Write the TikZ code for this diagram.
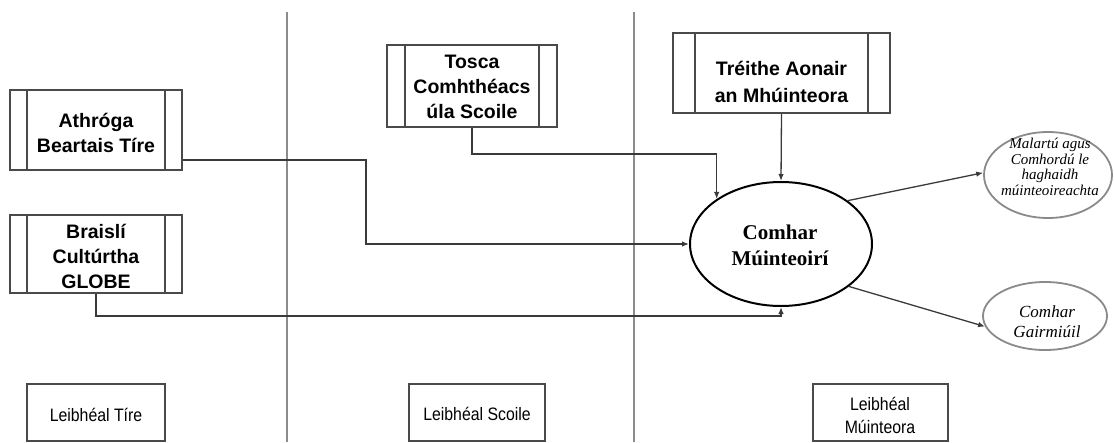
\documentclass[tikz,border=0pt]{standalone}
\usepackage{fontspec}
\setmainfont{Liberation Serif}
\newfontfamily\labelsans{Liberation Sans}
\newfontfamily\levelsans{Liberation Sans}[FakeStretch=0.88]
\usetikzlibrary{arrows.meta,shapes.geometric}

\definecolor{boxline}{HTML}{4A4A4A}
\definecolor{divline}{HTML}{8C8C8C}
\definecolor{wire}{HTML}{3A3A3A}
\definecolor{softring}{HTML}{8A8A8A}

\tikzset{
  barbox/.style={rectangle, draw=boxline, line width=1.8pt, inner sep=0pt,
    path picture={
      \draw[boxline, line width=1.8pt]
        ([xshift=#1]path picture bounding box.north west) -- ([xshift=#1]path picture bounding box.south west)
        ([xshift=-#1]path picture bounding box.north east) -- ([xshift=-#1]path picture bounding box.south east);
    }},
  boxtext/.style={align=center, inner sep=0pt, font=\labelsans\bfseries\fontsize{19.5}{25}\selectfont},
  levelbox/.style={rectangle, draw=boxline, line width=1.8pt, inner sep=0pt,
    minimum width=136pt, minimum height=57pt},
  leveltext/.style={align=center, inner sep=0pt, font=\levelsans\fontsize{18}{23}\selectfont},
  hub/.style={ellipse, draw=black, line width=2pt, inner sep=0pt,
    minimum width=182pt, minimum height=124pt},
  outcome/.style={ellipse, draw=softring, line width=1.8pt, inner sep=0pt},
  divider/.style={draw=divline, line width=1.3pt},
  conn/.style={draw=wire, line width=1.3pt, -{Latex[length=7pt,width=5.5pt]}},
}

\begin{document}
\begin{tikzpicture}[x=1pt, y=-1pt]
  \useasboundingbox (0,0) rectangle (1114,442);

  % column dividers
  \coordinate (d1t) at (287,12);  \coordinate (d1b) at (287,442);
  \coordinate (d2t) at (634,12);  \coordinate (d2b) at (634,442);
  \draw[divider] (d1t) -- (d1b);
  \draw[divider] (d2t) -- (d2b);

  % factor boxes
  \node[barbox=17pt, minimum width=172pt, minimum height=80pt] (ath) at (96,130) {};
  \node[boxtext] (athT) at (96,132.5) {Athróga\\Beartais Tíre};

  \node[barbox=17pt, minimum width=172pt, minimum height=78pt] (bra) at (96,254) {};
  \node[boxtext] (braT) at (96,256) {Braislí\\Cultúrtha\\GLOBE};

  \node[barbox=18pt, minimum width=170pt, minimum height=82pt] (tos) at (472,86) {};
  \node[boxtext] (tosT) at (472,87) {Tosca\\Comhthéacs\\úla Scoile};

  \node[barbox=22pt, minimum width=217pt, minimum height=80pt] (tre) at (781.5,73) {};
  \node[boxtext, font=\labelsans\bfseries\fontsize{19.5}{27}\selectfont] (treT) at (781.5,81.5) {Tréithe Aonair\\an Mhúinteora};

  % central construct
  \node[hub] (main) at (781,244) {};
  \node[align=center, inner sep=0pt, font=\bfseries\fontsize{21}{26}\selectfont] (mainT) at (780,245) {Comhar\\Múinteoirí};

  % outcomes
  \node[outcome, minimum width=128pt, minimum height=86pt] (mal) at (1048,175) {};
  \node[align=center, inner sep=0pt, font=\itshape\fontsize{15}{15.5}\selectfont] (malT) at (1050,167)
    {Malartú agus\\Comhordú le\\haghaidh\\múinteoireachta};

  \node[outcome, minimum width=124pt, minimum height=68pt] (gai) at (1045,316) {};
  \node[align=center, inner sep=0pt, font=\itshape\fontsize{17}{20}\selectfont] (gaiT) at (1047,322)
    {Comhar\\Gairmiúil};

  % level labels
  \node[levelbox, minimum width=138pt] (lv1) at (96,412.5) {};
  \node[leveltext] (lv1T) at (96,415) {Leibhéal Tíre};
  \node[levelbox] (lv2) at (477,412.5) {};
  \node[leveltext] (lv2T) at (477,414) {Leibhéal Scoile};
  \node[levelbox, minimum width=135pt] (lv3) at (880.5,412.5) {};
  \node[leveltext] (lv3T) at (880,415) {Leibhéal\\Múinteora};

  % connectors into the central construct
  \draw[conn] ([yshift=11pt]ath.south east) -- ++(183,0) |- (main.west);
  \draw[conn] (tos.south) -- ++(0,26) -| (main.145.5);
  \draw[conn] (tre.south) -- (main.north);
  \draw[conn] (bra.south) -- ++(0,22) -| (main.south);

  % connectors to the outcomes
  \draw[conn] (main.33) -- (mal.178);
  \draw[conn] (main.-32) -- (gai.190);
\end{tikzpicture}
\end{document}
